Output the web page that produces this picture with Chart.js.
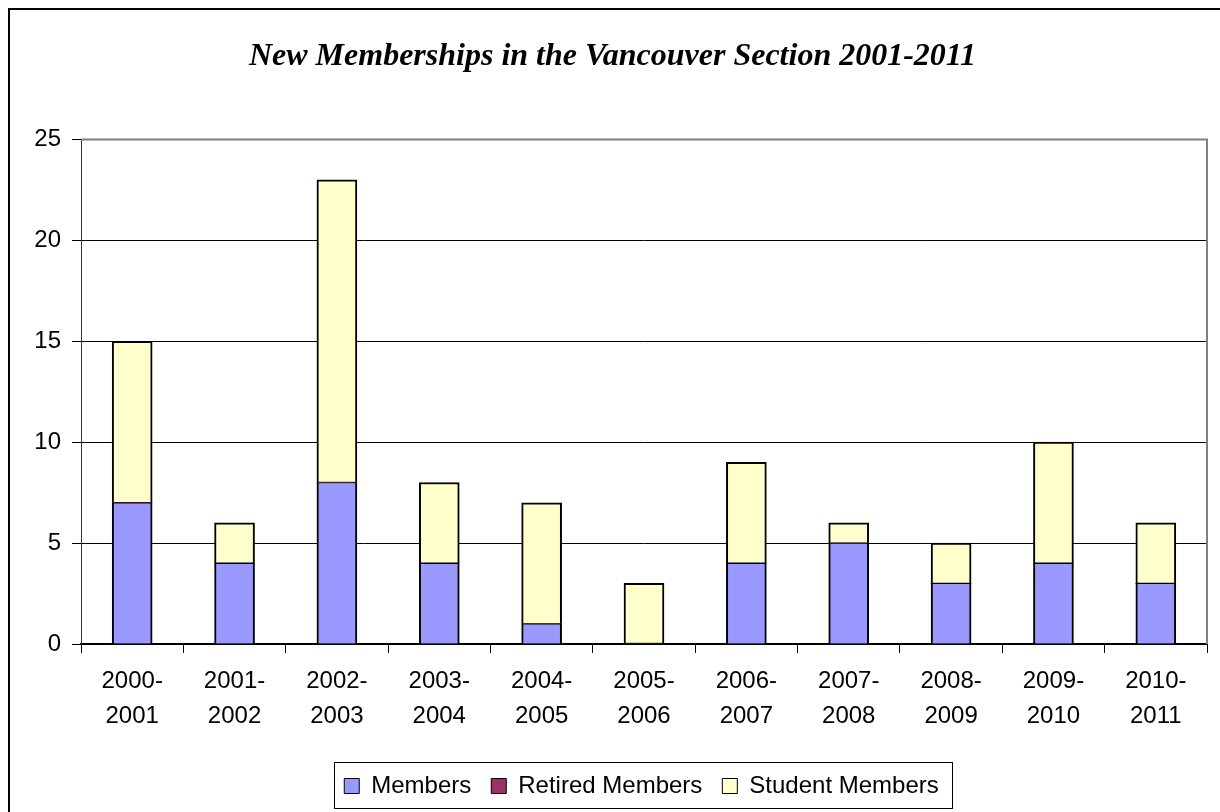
<!DOCTYPE html>
<html>
<head>
<meta charset="utf-8">
<script src="https://cdn.jsdelivr.net/npm/chart.js@4.4.1/dist/chart.umd.min.js"></script>
<style>
html,body{margin:0;padding:0;background:#fff;}
#wrap{position:relative;width:1220px;height:812px;}
</style>
</head>
<body>
<div id="wrap"><canvas id="c" width="1220" height="812"></canvas></div>
<script>
const categories = ["2000-2001","2001-2002","2002-2003","2003-2004","2004-2005","2005-2006","2006-2007","2007-2008","2008-2009","2009-2010","2010-2011"];
const members = [7,4,8,4,1,0,4,5,3,4,3];
const retiredMembers = [0,0,0,0,0,0,0,0,0,0,0];
const studentMembers = [8,2,15,4,6,3,5,1,2,6,3];
const yTicks = [0,5,10,15,20,25];
const titleText = "New Memberships in the Vancouver Section 2001-2011";

const LEGEND_SHIFT = 34;
const LEGEND_PAD = 20;

const framePlugin = {
  id: 'frames',
  afterLayout(chart) {
    const lg = chart.legend;
    if (lg) { lg.left += LEGEND_SHIFT; lg.right += LEGEND_SHIFT; }
    const t = chart.titleBlock;
    if (t) { t.left += 5; t.right += 5; }
  },
  afterDraw(chart) {
    const ctx = chart.ctx;
    const a = chart.chartArea;
    ctx.save();
    // plot border top/right gray
    ctx.strokeStyle = '#808080';
    ctx.lineWidth = 2;
    ctx.beginPath();
    ctx.moveTo(a.left, a.top);
    ctx.lineTo(a.right, a.top);
    ctx.lineTo(a.right, a.bottom);
    ctx.stroke();
    // outer frame
    ctx.strokeStyle = '#000';
    ctx.lineWidth = 2;
    ctx.strokeRect(9, 9, 1240, 840);
    // legend box
    const lg = chart.legend;
    if (lg && lg.lineWidths) {
      const lw = lg.lineWidths[0];
      const startX = (lg.left + LEGEND_PAD + lg.right - lw) / 2;
      const endX = startX + lw - LEGEND_PAD;
      ctx.strokeStyle = '#000';
      ctx.lineWidth = 1;
      const l = Math.round(startX - 10) + 0.5;
      const r = Math.round(endX + 13) + 0.5;
      ctx.strokeRect(l, 762.5, r - l, 46);
    }
    ctx.restore();
  }
};

new Chart(document.getElementById('c'), {
  type: 'bar',
  data: {
    labels: categories,
    datasets: [
      { label: 'Members', data: members, backgroundColor: '#9999FF', borderColor: '#000',
        borderWidth: {top: 1, left: 2, right: 2, bottom: 0}, borderSkipped: false, barThickness: 40 },
      { label: 'Retired Members', data: retiredMembers, backgroundColor: '#993366', borderColor: '#000',
        borderWidth: 0, borderSkipped: false, barThickness: 40 },
      { label: 'Student Members', data: studentMembers, backgroundColor: '#FFFFCC', borderColor: '#000',
        borderWidth: {top: 2, left: 2, right: 2, bottom: 1}, borderSkipped: false, barThickness: 40 }
    ]
  },
  options: {
    responsive: false,
    animation: false,
    layout: { padding: { left: 8, right: 13, top: 0, bottom: 4 } },
    plugins: {
      title: {
        display: true, text: titleText, color: '#000',
        font: { family: '"Liberation Serif", "Times New Roman", serif', size: 32, style: 'italic', weight: 'bold', lineHeight: 1.2 },
        padding: { top: 38, bottom: 63 }
      },
      legend: {
        position: 'bottom',
        labels: {
          color: '#000',
          font: { family: '"Liberation Sans", Arial, sans-serif', size: 24 },
          boxWidth: 15, boxHeight: 15, padding: LEGEND_PAD,
          generateLabels(chart) {
            const items = Chart.defaults.plugins.legend.labels.generateLabels(chart);
            items.forEach(it => { it.lineWidth = 1; it.strokeStyle = '#000'; });
            return items;
          }
        }
      },
      tooltip: { enabled: false }
    },
    scales: {
      x: {
        stacked: true,
        afterFit(scale) { scale.height = 110; },
        grid: { display: true, drawOnChartArea: false, drawTicks: true, tickLength: 9, tickColor: '#000', offset: true },
        border: { display: true, color: '#000', width: 2 },
        ticks: {
          color: '#000', padding: 11, maxRotation: 0, autoSkip: false,
          font: { family: '"Liberation Sans", Arial, sans-serif', size: 24, lineHeight: 1.45 },
          callback(v, i) { const s = categories[i]; const p = s.indexOf('-'); return [s.slice(0, p + 1), s.slice(p + 1)]; }
        }
      },
      y: {
        stacked: true, min: 0, max: 25,
        afterFit(scale) { scale.width = 73; },
        afterBuildTicks(scale) { scale.ticks = yTicks.map(v => ({ value: v })); },
        grid: {
          color: ctx => (ctx.tick && ctx.tick.value === 25) ? '#808080' : '#000',
          lineWidth: 1, tickLength: 9, tickColor: '#000'
        },
        border: { display: true, color: '#333', width: 1 },
        ticks: {
          color: '#000', padding: 11,
          font: { family: '"Liberation Sans", Arial, sans-serif', size: 24 }
        }
      }
    }
  },
  plugins: [framePlugin]
});
</script>
</body>
</html>
